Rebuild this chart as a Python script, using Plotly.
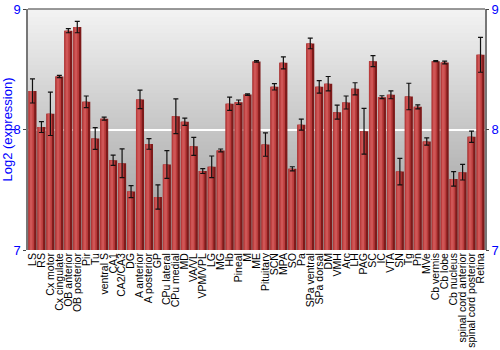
import plotly.graph_objects as go

categories = ["LS", "RS", "Cx motor", "Cx cingulate", "OB anterior", "OB posterior", "Pir", "Tu",
              "ventral S", "CA1", "CA2/CA3", "DG", "A anterior", "A posterior", "GP", "CPu lateral",
              "CPu medial", "MD", "VA/VL", "VPM/VPL", "LG", "MG", "Hb", "Pineal", "M", "ME",
              "Pituitary", "SCN", "MPA", "SO", "Pa", "SPa ventral", "SPa dorsal", "DM", "VMH", "Arc",
              "LH", "PAG", "SC", "IC", "VTA", "SN", "Tg", "Pn", "MVe", "Cb vermis", "Cb lobe",
              "Cb nucleus", "spinal cord anterior", "spinal cord posterior", "Retina"]

values = [8.32, 8.02, 8.13, 8.44, 8.82, 8.85, 8.23, 7.925, 8.09, 7.745, 7.72, 7.485, 8.25, 7.88,
          7.44, 7.71, 8.11, 8.064, 7.86, 7.655, 7.69, 7.826, 8.213, 8.227, 8.29, 8.565, 7.875,
          8.354, 8.553, 7.674, 8.04, 8.714, 8.354, 8.38, 8.144, 8.224, 8.338, 7.986, 8.567, 8.268,
          8.288, 7.651, 8.274, 8.188, 7.90, 8.567, 8.556, 7.59, 7.646, 7.94, 8.62]

errors = [0.10, 0.045, 0.18, 0.01, 0.017, 0.047, 0.048, 0.09, 0.012, 0.043, 0.12, 0.05, 0.076,
          0.044, 0.10, 0.115, 0.144, 0.03, 0.075, 0.02, 0.09, 0.012, 0.055, 0.018, 0.006, 0.006,
          0.097, 0.026, 0.05, 0.017, 0.046, 0.044, 0.052, 0.06, 0.058, 0.054, 0.05, 0.19, 0.046,
          0.012, 0.033, 0.11, 0.11, 0.017, 0.03, 0.004, 0.011, 0.06, 0.065, 0.047, 0.145]

y_ticks = [7, 8, 9]
y_range = [7, 9]

fig = go.Figure()

# cylinder-like shading from layered bars
fig.add_trace(go.Bar(x=categories, y=values, width=0.9, marker=dict(color="#7e1a1a", line=dict(width=0)),
                     hoverinfo="skip", showlegend=False))
fig.add_trace(go.Bar(x=categories, y=values, width=0.64, offset=-0.45,
                     marker=dict(color="#ba3c3c", line=dict(width=0)), hoverinfo="skip", showlegend=False))
fig.add_trace(go.Bar(x=categories, y=values, width=0.3, offset=-0.3,
                     marker=dict(color="#cf5656", line=dict(width=0)), hoverinfo="skip", showlegend=False))
fig.add_trace(go.Scatter(x=categories, y=values, mode="markers", marker=dict(size=1, opacity=0),
                         error_y=dict(type="data", array=errors, color="#111111", thickness=1.2, width=2.5),
                         showlegend=False))
fig.add_trace(go.Scatter(x=[categories[0]], y=[values[0]], yaxis="y2", mode="markers",
                         marker=dict(opacity=0), showlegend=False, hoverinfo="skip"))

# vertical gradient background (overlapping strips, bottom first, to avoid seams)
n = 60
top = (243, 243, 243)
bot = (152, 152, 152)
shapes = []
for i in range(n):
    t = 1 - (i + 0.5) / n  # i=0 bottom strip
    c = tuple(int(round(top[k] + (bot[k] - top[k]) * t)) for k in range(3))
    y0 = y_range[0] + (y_range[1] - y_range[0]) * i / n
    shapes.append(dict(type="rect", xref="paper", yref="y", x0=0, x1=1, y0=y0, y1=y_range[1],
                       fillcolor="rgb(%d,%d,%d)" % c, line=dict(width=0), layer="below"))
shapes.append(dict(type="line", xref="paper", yref="paper", x0=0, x1=1, y0=1, y1=1,
                   line=dict(color="#777777", width=1.5)))

fig.update_layout(
    width=500, height=350,
    margin=dict(l=28, r=15, t=9, b=100),
    paper_bgcolor="white", plot_bgcolor="white",
    barmode="overlay", bargap=0.1,
    font=dict(family="Liberation Sans, Arial, sans-serif"),
    shapes=shapes,
    xaxis=dict(tickangle=-90, tickfont=dict(size=10.5, color="black"), showgrid=False,
               tickmode="array", tickvals=categories, ticktext=categories,
               ticks="", showline=False, zeroline=False, automargin=False, ticklabelstandoff=0,
               range=[-0.5, len(categories) - 0.5]),
    yaxis=dict(range=y_range, tickvals=y_ticks, tickfont=dict(size=13, color="#0000ff"),
               title=dict(text="Log2 (expression)", font=dict(size=13, color="#0000ff"), standoff=2),
               showgrid=True, gridcolor="white", gridwidth=1.5, zeroline=False,
               showline=True, linecolor="#777777", linewidth=1.5, mirror=True,
               ticks="outside", ticklen=3, tickcolor="#444444", automargin=False),
    yaxis2=dict(range=y_range, tickvals=y_ticks, tickfont=dict(size=13, color="#0000ff"),
                overlaying="y", side="right", showgrid=False, zeroline=False,
                ticks="outside", ticklen=3, tickcolor="#444444", automargin=False),
)

fig.write_html("out.html")
